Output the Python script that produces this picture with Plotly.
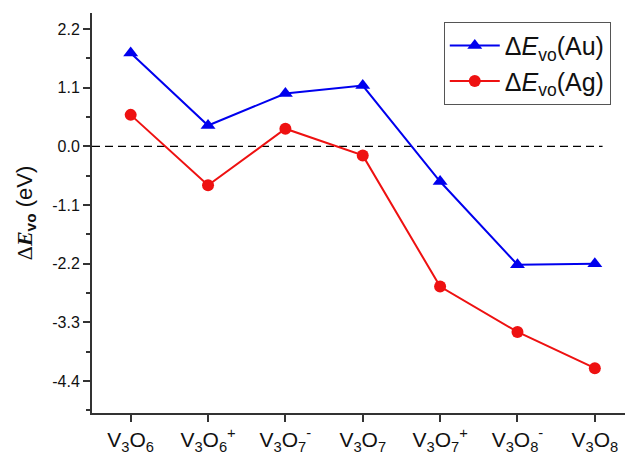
import plotly.graph_objects as go

categories = ["V<sub>3</sub>O<sub>6</sub>", "V<sub>3</sub>O<sub>6</sub><sup>+</sup>",
              "V<sub>3</sub>O<sub>7</sub><sup>-</sup>", "V<sub>3</sub>O<sub>7</sub>",
              "V<sub>3</sub>O<sub>7</sub><sup>+</sup>", "V<sub>3</sub>O<sub>8</sub><sup>-</sup>",
              "V<sub>3</sub>O<sub>8</sub>"]
au_values = [1.75, 0.39, 0.99, 1.14, -0.66, -2.22, -2.20]
ag_values = [0.59, -0.73, 0.33, -0.17, -2.63, -3.48, -4.16]
y_ticks = [-4.4, -3.3, -2.2, -1.1, 0.0, 1.1, 2.2]
y_tick_labels = ["-4.4", "-3.3", "-2.2", "-1.1", "0.0", "1.1", "2.2"]

x = list(range(len(categories)))

fig = go.Figure()
fig.add_trace(go.Scatter(
    x=x, y=au_values, mode="lines+markers",
    name="Δ<i>E</i><sub>vo</sub>(Au)",
    line=dict(color="#0000ee", width=2),
    marker=dict(symbol="triangle-up", size=13, color="#0000ee"),
))
fig.add_trace(go.Scatter(
    x=x, y=ag_values, mode="lines+markers",
    name="Δ<i>E</i><sub>vo</sub>(Ag)",
    line=dict(color="#ee1111", width=2),
    marker=dict(symbol="circle", size=12, color="#ee1111"),
))

fig.add_shape(type="line", xref="x", yref="y", x0=-0.5, x1=6.1, y0=0, y1=0,
              line=dict(color="black", width=1.3, dash="8px,5px"), layer="below")

fig.update_layout(
    width=625, height=458,
    margin=dict(l=92, r=0, t=13, b=45, autoexpand=False),
    paper_bgcolor="white", plot_bgcolor="white",
    font=dict(family="Liberation Sans, Arial, sans-serif", color="#111"),
    showlegend=True,
    legend=dict(
        x=0.66, y=0.978, xanchor="left", yanchor="top",
        bordercolor="#555", borderwidth=1, bgcolor="white",
        font=dict(size=25, color="#111"),
        tracegroupgap=0, itemwidth=50,
    ),
    xaxis=dict(
        range=[-0.5, 6.39], tickmode="array", tickvals=x, ticktext=categories,
        showline=True, linecolor="#333", linewidth=2, mirror=False,
        ticks="outside", ticklen=7, tickwidth=1.5, tickcolor="#333",
        showgrid=False, zeroline=False, automargin=False,
        tickfont=dict(size=21, color="#111"),
    ),
    yaxis=dict(
        range=[-5.0, 2.5], tickmode="array", tickvals=y_ticks, ticktext=y_tick_labels,
        showline=True, linecolor="#333", linewidth=2, mirror=False,
        ticks="outside", ticklen=7, tickwidth=1.5, tickcolor="#333",
        showgrid=False, zeroline=False, automargin=False,
        tickfont=dict(size=16, color="#111"),
        minor=dict(tickvals=[-4.95, -3.85, -2.75, -1.65, -0.55, 0.55, 1.65],
                   ticks="outside", ticklen=4, tickwidth=1.5, tickcolor="#333"),
        title=dict(text="<span style='font-family:Liberation Serif'>Δ<b><i>E</i></b></span>"
                        "<sub><b>vo</b></sub> (eV)",
                   font=dict(size=22, color="#111"), standoff=14),
    ),
)

fig.write_html("out.html", config={"displayModeBar": False},
               post_script="document.body.style.margin='0';document.body.style.overflow='hidden';")
